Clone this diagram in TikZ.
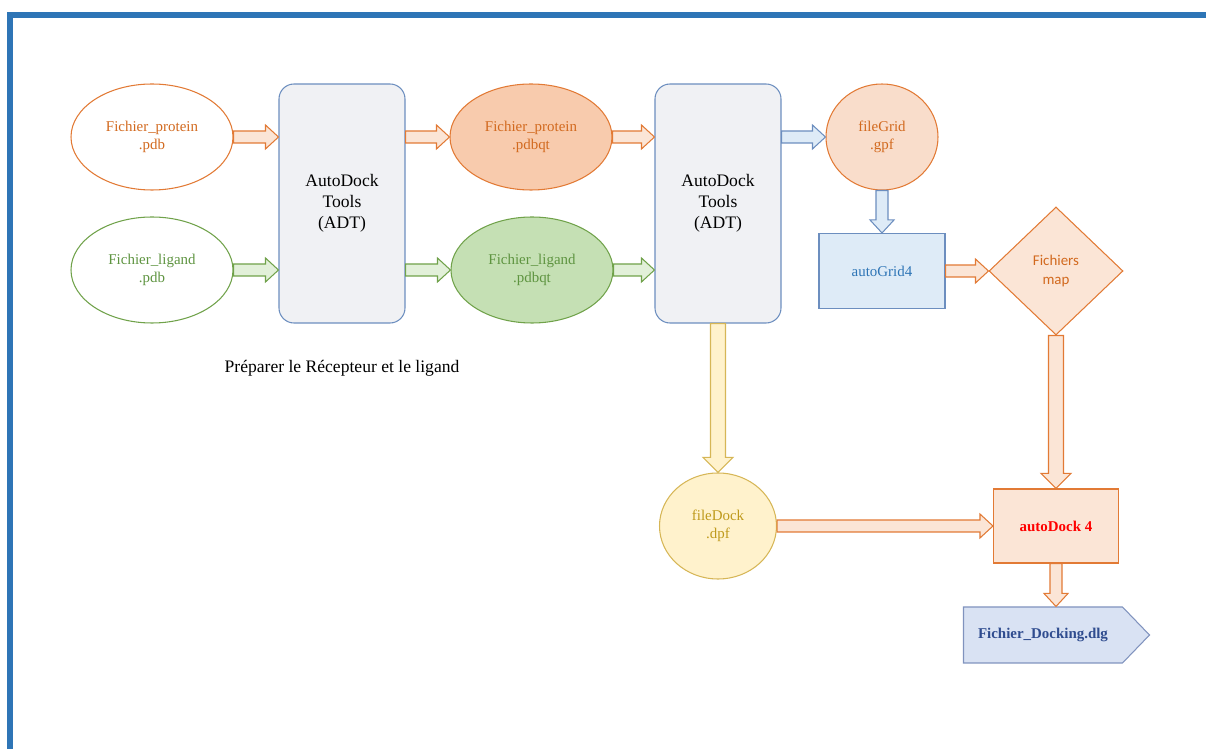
\documentclass[tikz,border=0pt]{standalone}
\usepackage{fontspec}
\setmainfont{Liberation Serif}
\newfontfamily\calibri{Carlito}
\usepackage{tikz}
\usetikzlibrary{shapes.geometric,shapes.symbols,calc}
\usepackage{xcolor}

\definecolor{frameblue}{HTML}{2E75B6}
\definecolor{orgline}{HTML}{E27A35}
\definecolor{orgtext}{HTML}{D2691E}
\definecolor{orgfill}{HTML}{F8CBAD}
\definecolor{orglight}{HTML}{FBE5D6}
\definecolor{gridfill}{HTML}{F9DDCB}
\definecolor{grnline}{HTML}{70A24A}
\definecolor{grntext}{HTML}{5E9440}
\definecolor{grnfill}{HTML}{C5E0B4}
\definecolor{grnlight}{HTML}{E2F0D9}
\definecolor{bluline}{HTML}{6C8EBF}
\definecolor{blufill}{HTML}{DEEBF7}
\definecolor{blutext}{HTML}{2E75B6}
\definecolor{adtfill}{HTML}{F0F1F4}
\definecolor{yelline}{HTML}{D6B656}
\definecolor{yelfill}{HTML}{FFF2CC}
\definecolor{yeltext}{HTML}{BF9A1C}
\definecolor{dlgfill}{HTML}{D9E2F3}
\definecolor{dlgline}{HTML}{8093BE}
\definecolor{dlgtext}{HTML}{2F4C8F}

% block arrows, drawn from a start point to the tip
\newcommand{\ash}{0.12cm}
\newcommand{\ahh}{0.24cm}
\newcommand{\ahl}{0.26cm}
\newcommand{\harrow}[3][]{%
  \draw[#1] ($(#2)+(0,\ash)$) -- ($(#3)+(-\ahl,\ash)$) -- ($(#3)+(-\ahl,\ahh)$)
    -- (#3) -- ($(#3)+(-\ahl,-\ahh)$) -- ($(#3)+(-\ahl,-\ash)$)
    -- ($(#2)+(0,-\ash)$) -- cycle;}
\newcommand{\varrow}[3][]{%
  \draw[#1] ($(#2)+(\ash,0)$) -- ($(#3)+(\ash,\ahl)$) -- ($(#3)+(\ahh,\ahl)$)
    -- (#3) -- ($(#3)+(-\ahh,\ahl)$) -- ($(#3)+(-\ash,\ahl)$)
    -- ($(#2)+(-\ash,0)$) -- cycle;}

\begin{document}
\begin{tikzpicture}[
  x=0.2mm, y=-0.2mm,
  txt/.style={font=\fontsize{8.5}{10.2}\selectfont, align=center, inner sep=0pt},
  oval/.style 2 args={ellipse, draw=#1, text=#2, line width=0.6pt,
                      minimum width=3.24cm, minimum height=2.12cm, txt},
  adt/.style={draw=bluline, fill=adtfill, rounded corners=0.3cm, line width=0.6pt,
              minimum width=2.52cm, minimum height=4.78cm, align=center,
              font=\fontsize{10}{12}\selectfont},
  fat/.style 2 args={draw=#1, fill=#2, line width=0.6pt, line join=miter},
]
\useasboundingbox (0,0) rectangle (1206,749);
% frame
\fill[frameblue] (7,12) rectangle (1206,18);
\fill[frameblue] (7,12) rectangle (13,749);

% preparation of receptor and ligand
\node[oval={orgline}{orgtext}, fill=white] (protA) at (152,137) {Fichier\_protein\\.pdb};
\node[oval={grnline}{grntext}, fill=white] (ligA) at (152,270) {Fichier\_ligand\\.pdb};
\node[adt] (adtA) at (342,203.5) {AutoDock\\Tools\\(ADT)};
\node[oval={orgline}{orgtext}, fill=orgfill] (protB) at (531,137) {Fichier\_protein\\.pdbqt};
\node[oval={grnline}{grntext}, fill=grnfill] (ligB) at (532,270) {Fichier\_ligand\\.pdbqt};
\node[adt] (adtB) at (718,203.5) {AutoDock\\Tools\\(ADT)};
\node[font=\fontsize{10}{12}\selectfont] (prep) at (342,368) {Préparer le Récepteur et le ligand};

% grid
\node[ellipse, draw=orgline, fill=gridfill, text=orgtext, line width=0.6pt,
      minimum width=2.24cm, minimum height=2.12cm, txt] (grid) at (882,137) {fileGrid\\.gpf};
\node[rectangle, draw=bluline, fill=blufill, text=blutext, line width=0.6pt,
      minimum width=2.52cm, minimum height=1.5cm, txt] (autogrid) at (882,271) {autoGrid4};
\node[diamond, draw=orgline, fill=orglight, text=orgtext, line width=0.6pt,
      minimum width=2.68cm, minimum height=2.56cm, inner sep=0pt, align=center,
      font=\calibri\fontsize{8.5}{10.8}\selectfont] (maps) at (1056,271) {Fichiers\\map};

% docking
\node[ellipse, draw=yelline, fill=yelfill, text=yeltext, line width=0.6pt,
      minimum width=2.34cm, minimum height=2.12cm, txt] (dock) at (718,526) {fileDock\\.dpf};
\node[rectangle, draw=orgline, fill=orglight, text=red, line width=0.6pt,
      minimum width=2.5cm, minimum height=1.48cm, txt, font=\fontsize{8.5}{10.2}\selectfont\bfseries]
      (autodock) at (1056,526) {autoDock 4};
\node[signal, signal to=east, signal pointer angle=92, draw=dlgline, fill=dlgfill,
      text=dlgtext, line width=0.6pt, minimum width=3.72cm, minimum height=1.12cm,
      txt, font=\fontsize{8.5}{10.2}\selectfont\bfseries] (dlg) at (1043,635) {Fichier\_Docking.dlg};

% connectors
\harrow[fat={orgline}{orglight}]{protA.east}{adtA.west |- protA.east}
\harrow[fat={grnline}{grnlight}]{ligA.east}{adtA.west |- ligA.east}
\harrow[fat={orgline}{orglight}]{adtA.east |- protB.west}{protB.west}
\harrow[fat={grnline}{grnlight}]{adtA.east |- ligB.west}{ligB.west}
\harrow[fat={orgline}{orglight}]{protB.east}{adtB.west |- protB.east}
\harrow[fat={grnline}{grnlight}]{ligB.east}{adtB.west |- ligB.east}
\harrow[fat={bluline}{blufill}]{adtB.east |- grid.west}{grid.west}
\varrow[fat={bluline}{blufill}]{grid.south}{autogrid.north}
\harrow[fat={orgline}{orglight}]{autogrid.east}{maps.west}
\harrow[fat={orgline}{orglight}]{dock.east}{autodock.west}
\varrow[fat={orgline}{orglight}]{autodock.south}{autodock.south |- dlg.north}
\begin{scope}
  \renewcommand{\ash}{0.15cm}\renewcommand{\ahh}{0.3cm}\renewcommand{\ahl}{0.3cm}
  \varrow[fat={yelline}{yelfill}]{adtB.south}{dock.north}
  \varrow[fat={orgline}{orglight}]{maps.south}{autodock.north}
\end{scope}
\end{tikzpicture}
\end{document}
